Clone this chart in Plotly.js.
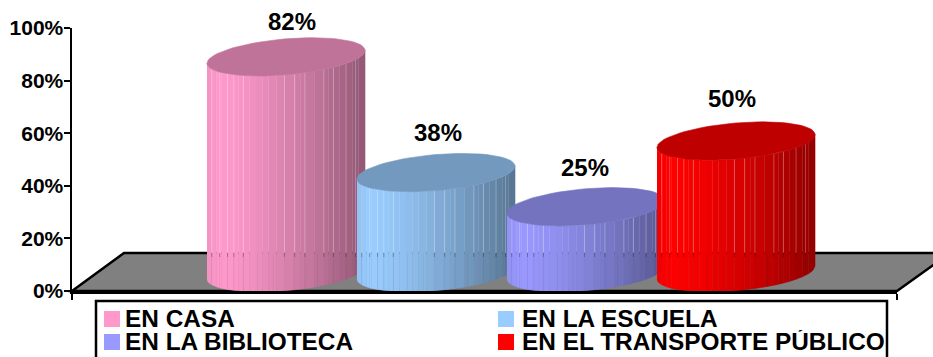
<!DOCTYPE html>
<html>
<head>
<meta charset="utf-8">
<script src="https://cdn.plot.ly/plotly-3.0.1.min.js"></script>
<style>html,body{margin:0;padding:0;background:#fff;overflow:hidden}#chart{width:933px;height:357px}</style>
</head>
<body>
<div id="chart"></div>
<script>
// Share of answers per place
const categories = ['EN CASA', 'EN LA ESCUELA', 'EN LA BIBLIOTECA', 'EN EL TRANSPORTE PÚBLICO'];
const values = [82, 38, 25, 50];
const colors = [[255, 153, 204], [153, 204, 255], [153, 153, 255], [255, 0, 0]];
const tickValues = [0, 20, 40, 60, 80, 100];

// Plot area in page pixels; the x axis simply runs in pixels
const plot = { left: 72, right: 897, top: 28, bottom: 291 };
const pxPerUnit = (plot.bottom - plot.top) / 100;
const toY = py => (plot.bottom - py) / pxPerUnit;
const paperX = px => (px - plot.left) / (plot.right - plot.left);
const paperY = py => (plot.bottom - py) / (plot.bottom - plot.top);

// Cylinder proportions
const firstLeft = 207, step = 150, cylWidth = 158;
const halfDepth = 18, skew = 6.5, baseLift = 7.03;
const floorBack = toY(253);

// Facets across the front of each cylinder, as fractions of its width
const facets = [0, .03, .06, .09, .13, .17, .2, .23, .27, .31, .35, .39, .44, .49, .555, .59, .62, .68, .74, .77, .8, .84, .88, .92, .96, 1];
const upperSeams = [.03, .08, .13, .17, .23, .49, .555, .62, .74, .8, .88, .94];
const lowerSeams = [.03, .08, .13, .17, .23, .32, .42, .55, .62, .7, .8, .88, .94];

// Value labels: horizontal centre and lift above the bar value
const labelX = [292, 438, 585, 732];
const labelLift = [20.6, 22.4, 21.8, 23.2];

const fontFamily = '"Liberation Sans", Arial, sans-serif';

function shade(rgb, k) {
  return 'rgb(' + rgb.map(c => Math.round(c * k)).join(',') + ')';
}
// Facet brightness: slightly dim on the far left, brightest just after, darkest on the right
function brightness(f) {
  if (f < 0.08) return 0.95 + f * 0.6;
  return 1 - 0.43 * Math.pow((f - 0.08) / 0.92, 1.35);
}
// Point on the skewed ellipse that forms a cylinder end
function rim(cx, level, t) {
  const a = cylWidth / 2;
  return [cx + a * Math.cos(t),
          level - (halfDepth * Math.sin(t) - skew * Math.cos(t)) / pxPerUnit];
}
// Point on the front arc for a fraction of the width
function front(cx, level, f) {
  const t = Math.acos(1 - 2 * f);
  const a = cylWidth / 2;
  return [cx - a * Math.cos(t),
          level - (halfDepth * Math.sin(t) + skew * Math.cos(t)) / pxPerUnit];
}

const traces = [];
categories.forEach((name, i) => {
  const left = firstLeft + step * i;
  const cx = left + cylWidth / 2;
  const low = baseLift, high = baseLift + values[i];
  const rgb = colors[i];

  for (let k = 0; k < facets.length - 1; k++) {
    const f0 = facets[k], f1 = facets[k + 1];
    const xs = [], ys = [];
    for (let s = 0; s <= 6; s++) {
      const p = front(cx, high, f0 + (f1 - f0) * s / 6);
      xs.push(p[0]); ys.push(p[1]);
    }
    for (let s = 6; s >= 0; s--) {
      const p = front(cx, low, f0 + (f1 - f0) * s / 6);
      xs.push(p[0]); ys.push(p[1]);
    }
    traces.push({ type: 'scatter', mode: 'lines', x: xs, y: ys, fill: 'toself',
      fillcolor: shade(rgb, brightness((f0 + f1) / 2)),
      line: { width: 0.6, color: shade(rgb, brightness((f0 + f1) / 2)) },
      hoverinfo: 'skip', showlegend: false });
  }

  // Pale seams above the floor line, fainter ones below it
  const sx = [], sy = [], lx = [], ly = [], tx = [], ty = [];
  upperSeams.forEach(f => {
    const a = front(cx, high, f);
    sx.push(a[0], a[0], null); sy.push(a[1], floorBack, null);
    tx.push(a[0], a[0], null); ty.push(floorBack, floorBack - 4 / pxPerUnit, null);
  });
  lowerSeams.forEach(f => {
    const b = front(cx, low, f);
    lx.push(b[0], b[0], null); ly.push(floorBack, b[1], null);
  });
  traces.push({ type: 'scatter', mode: 'lines', x: sx, y: sy,
    line: { width: 1, color: 'rgba(255,255,255,0.25)' }, hoverinfo: 'skip', showlegend: false });
  traces.push({ type: 'scatter', mode: 'lines', x: lx, y: ly,
    line: { width: 1, color: 'rgba(0,0,0,0.05)' }, hoverinfo: 'skip', showlegend: false });
  traces.push({ type: 'scatter', mode: 'lines', x: tx, y: ty,
    line: { width: 1, color: 'rgba(0,0,0,0.25)' }, hoverinfo: 'skip', showlegend: false });

  // Top face
  const topX = [], topY = [];
  for (let s = 0; s <= 72; s++) {
    const p = rim(cx, high, s / 72 * 2 * Math.PI);
    topX.push(p[0]); topY.push(p[1]);
  }
  traces.push({ type: 'scatter', mode: 'lines', x: topX, y: topY, fill: 'toself',
    fillcolor: shade(rgb, 0.75), line: { width: 0.6, color: shade(rgb, 0.75) },
    name: name, hoverinfo: 'skip', showlegend: false });
});

// Floor plane behind the cylinders
const floorPath = 'M' + paperX(plot.left) + ',' + paperY(plot.bottom) +
  ' L' + paperX(124) + ',' + paperY(253) +
  ' L' + paperX(950) + ',' + paperY(253) +
  ' L' + paperX(plot.right) + ',' + paperY(plot.bottom) + ' Z';

const shapes = [{
  type: 'path', xref: 'paper', yref: 'paper', layer: 'below', path: floorPath,
  fillcolor: '#808080', line: { color: '#000', width: 2.5 }
}, {
  type: 'rect', xref: 'paper', yref: 'paper', layer: 'above',
  x0: paperX(96), x1: paperX(887), y0: paperY(301), y1: paperY(375),
  fillcolor: '#fff', line: { color: '#000', width: 2.5 }
}];

const annotations = [];

// Value labels above the cylinders; paper height 1 is the 100% tick
values.forEach((v, i) => {
  annotations.push({
    xref: 'paper', yref: 'paper', x: paperX(labelX[i]), y: (v + labelLift[i]) / 100,
    xanchor: 'center', yanchor: 'middle', showarrow: false, borderpad: 0,
    text: v + '%',
    font: { family: fontFamily, size: 24, weight: 'bold', color: '#000' }
  });
});

// Two-column key under the floor
const swatchX = [104, 498], textX = [124, 521], keyY = [319, 342], textRaise = 1;
const keySlots = [[0, 0], [1, 0], [0, 1], [1, 1]];
categories.forEach((name, i) => {
  const col = keySlots[i][0], sy = keyY[keySlots[i][1]];
  shapes.push({
    type: 'rect', xref: 'paper', yref: 'paper', layer: 'above',
    x0: paperX(swatchX[col]), x1: paperX(swatchX[col] + 16),
    y0: paperY(sy - 8), y1: paperY(sy + 8),
    fillcolor: shade(colors[i], 1), line: { width: 0 }
  });
  annotations.push({
    xref: 'paper', yref: 'paper', x: paperX(textX[col]), y: paperY(sy - textRaise),
    xanchor: 'left', yanchor: 'middle', showarrow: false, borderpad: 0, height: 22,
    text: name,
    font: { family: fontFamily, size: 24.4, weight: 'bold', color: '#000' }
  });
});

const layout = {
  width: 933, height: 357,
  margin: { l: plot.left, r: 933 - plot.right, t: plot.top, b: 357 - plot.bottom, pad: 0 },
  paper_bgcolor: '#fff', plot_bgcolor: 'rgba(0,0,0,0)',
  showlegend: false,
  xaxis: {
    range: [plot.left, plot.right], showgrid: false, zeroline: false,
    showline: true, linecolor: '#000', linewidth: 2.5,
    tickmode: 'array', tickvals: [plot.left, plot.right], ticktext: ['', ''],
    ticks: 'outside', ticklen: 6, tickwidth: 2, tickcolor: '#000', fixedrange: true
  },
  yaxis: {
    range: [0, 100], showgrid: false, zeroline: false,
    showline: true, linecolor: '#000', linewidth: 2.5,
    tickmode: 'array', tickvals: tickValues, ticktext: tickValues.map(v => v + '%'),
    ticks: 'outside', ticklen: 6, tickwidth: 2, tickcolor: '#000', fixedrange: true,
    ticklabelstandoff: -4,
    tickfont: { family: fontFamily, size: 21, weight: 'bold', color: '#000' }
  },
  shapes: shapes,
  annotations: annotations
};

Plotly.newPlot('chart', traces, layout, { displayModeBar: false, staticPlot: true });
</script>
</body>
</html>
